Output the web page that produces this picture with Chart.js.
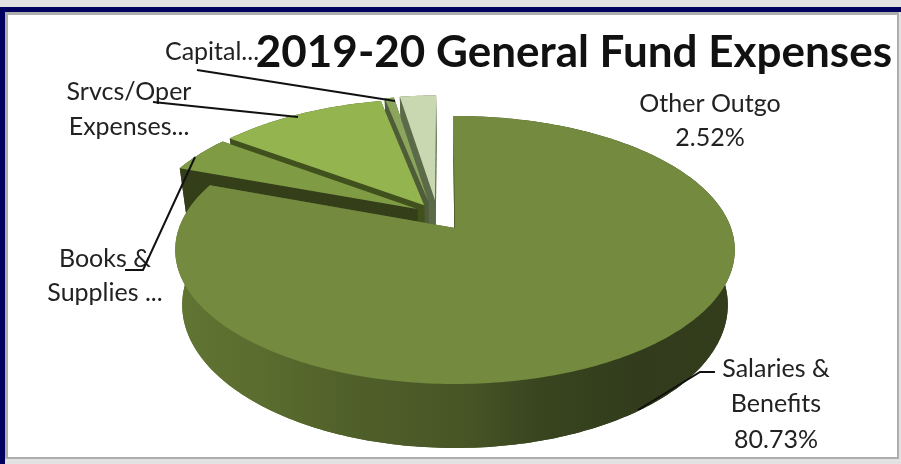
<!DOCTYPE html>
<html>
<head>
<meta charset="utf-8">
<title>2019-20 General Fund Expenses</title>
<script src="https://cdn.jsdelivr.net/npm/chart.js@4"></script>
<style>
    html, body { margin: 0; padding: 0; background: #e2e2e2; }
    #page { position: relative; width: 901px; height: 464px; overflow: hidden; }
    #navy { position: absolute; left: 0; top: 7px; width: 901px; height: 457px; background: #00005f; }
    #panel { position: absolute; left: 5px; top: 12px; width: 889px; height: 442px; background: #fff;
             border: 2px solid #adadad; border-top-width: 3px; border-left-width: 3px; }
    #below { position: absolute; left: 5px; top: 459px; width: 896px; height: 5px; background: #e2e2e2; }
    #side { position: absolute; left: 899px; top: 12px; width: 2px; height: 452px; background: #e2e2e2; }
    canvas { position: absolute; left: 0; top: 0; }
</style>
</head>
<body>
<div id="page">
    <div id="navy"></div>
    <div id="panel"></div>
    <div id="below"></div>
    <div id="side"></div>
    <canvas id="pieChart" width="901" height="464"></canvas>
</div>
<script>
const categories = ['Salaries & Benefits', 'Books & Supplies', 'Srvcs/Oper Expenses', 'Capital', 'Other Outgo'];
const shares = [80.73, 4.5, 11.6, 0.65, 2.52];
const chartTitle = '2019-20 General Fund Expenses';

// colours, one per slice
const topColors = ['#738a3f', '#7f9b44', '#94b450', '#8ba65c', '#c9d8b0'];
const wallColors = ['#4a5a28', '#343f1a', '#41511d', '#4f5c38', '#5b6a48'];

// how far each slice is pulled out of the pie, in pie radii
const pullX = [0, -0.14, -0.115, -0.1, -0.075];
const pullY = [0, -0.15, -0.18, -0.21, -0.22];

// label text and leader lines
const pieLabels = [
    { lines: ['Other Outgo', '2.52%'], x: 710, y: [112, 146] },
    { lines: ['Salaries &', 'Benefits', '80.73%'], x: 776, y: [377, 412, 448] },
    { lines: ['Books &', 'Supplies ...'], x: 105, y: [267, 301] },
    { lines: ['Srvcs/Oper', 'Expenses...'], x: 129, y: [100, 135] },
    { lines: ['Capital...'], x: 212, y: [60] }
];
const leaders = [
    [[197, 70], [395, 101]],
    [[153, 102], [298, 117]],
    [[195, 157], [143, 270], [125, 270]],
    [[715, 372], [700, 372], [638, 410]]
];

// perspective of the tilted pie
const cx = 455, cy = 228;
const radiusX = 276, radiusY = 130.4, tilt = 0.164, depth = 53.5, floorScale = 0.975;

function project(u, v) {
    const w = 1 - tilt * v;
    return [cx + radiusX * u / w, cy + radiusY * v / w];
}

// same point on the underside, which sits a little narrower
function projectLow(u, v) {
    const w = 1 - tilt * v;
    return [cx + floorScale * radiusX * u / w, cy + radiusY * v / w + depth / w];
}

function fillPoly(ctx, pts) {
    ctx.beginPath();
    pts.forEach((p, i) => i ? ctx.lineTo(p[0], p[1]) : ctx.moveTo(p[0], p[1]));
    ctx.closePath();
    ctx.fill();
}

function drawSlice(ctx, arc, i) {
    const { startAngle, endAngle } = arc.getProps(['startAngle', 'endAngle'], true);
    const steps = Math.max(4, Math.ceil((endAngle - startAngle) * 60));
    const top = [], bottom = [];
    for (let s = 0; s <= steps; s++) {
        const a = startAngle + (endAngle - startAngle) * s / steps;
        top.push(project(pullX[i] + Math.cos(a), pullY[i] + Math.sin(a)));
        bottom.push(projectLow(pullX[i] + Math.cos(a), pullY[i] + Math.sin(a)));
    }
    const apexTop = project(pullX[i], pullY[i]);
    const apexBottom = projectLow(pullX[i], pullY[i]);

    // side walls, the big slice gets a shaded wall
    if (i === 0) {
        const grad = ctx.createLinearGradient(175, 0, 735, 0);
        grad.addColorStop(0, '#617533');
        grad.addColorStop(0.16, '#5a6c2e');
        grad.addColorStop(0.31, '#50602a');
        grad.addColorStop(0.52, '#475526');
        grad.addColorStop(0.65, '#39451f');
        grad.addColorStop(0.82, '#323c1c');
        grad.addColorStop(1, '#333d1c');
        ctx.fillStyle = grad;
    } else {
        ctx.fillStyle = wallColors[i];
    }
    fillPoly(ctx, [apexBottom, ...bottom]);
    fillPoly(ctx, [apexTop, top[0], bottom[0], apexBottom]);
    fillPoly(ctx, [apexTop, top[steps], bottom[steps], apexBottom]);
    fillPoly(ctx, [...top, ...bottom.slice().reverse()]);

    // top face
    ctx.fillStyle = topColors[i];
    fillPoly(ctx, [apexTop, ...top]);
}

const pie3d = {
    id: 'pie3d',
    beforeDatasetsDraw(chart) {
        const ctx = chart.ctx;
        const arcs = chart.getDatasetMeta(0).data;
        // back to front so nearer slices cover the far ones
        ctx.save();
        for (let i = arcs.length - 1; i >= 0; i--) {
            drawSlice(ctx, arcs[i], i);
        }
        ctx.restore();
        return false;
    },
    afterDraw(chart) {
        const ctx = chart.ctx;
        ctx.save();
        ctx.font = '25px Lato';
        ctx.fillStyle = '#222';
        ctx.textAlign = 'center';
        pieLabels.forEach(l => l.lines.forEach((t, n) => ctx.fillText(t, l.x, l.y[n])));

        ctx.strokeStyle = '#111';
        ctx.lineWidth = 2;
        leaders.forEach(line => {
            ctx.beginPath();
            line.forEach((p, n) => n ? ctx.lineTo(p[0], p[1]) : ctx.moveTo(p[0], p[1]));
            ctx.stroke();
        });
        ctx.restore();
    }
};

new Chart(document.getElementById('pieChart').getContext('2d'), {
    type: 'pie',
    data: {
        labels: categories,
        datasets: [{ data: shares, backgroundColor: topColors, borderWidth: 0 }]
    },
    options: {
        responsive: false,
        animation: false,
        rotation: -0.4,
        layout: { padding: { top: 26, right: 9 } },
        plugins: {
            legend: { display: false },
            tooltip: { enabled: false },
            title: {
                display: true,
                text: chartTitle,
                align: 'end',
                color: '#111',
                font: { family: 'Lato', size: 44, weight: 'bold' },
                padding: 0
            }
        }
    },
    plugins: [pie3d]
});
</script>
</body>
</html>
